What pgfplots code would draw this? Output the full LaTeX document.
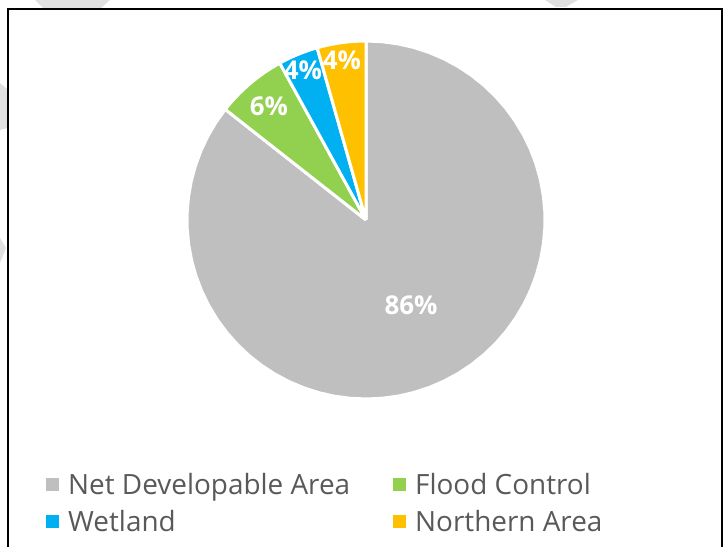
\documentclass[border=0pt]{standalone}
\usepackage{pgfplots}
\pgfplotsset{compat=1.18}
\usepackage{fontspec}
\setmainfont{Open Sans}
\definecolor{cgrey}{HTML}{BFBFBF}
\definecolor{cgreen}{HTML}{92D050}
\definecolor{cblue}{HTML}{00B0F0}
\definecolor{cyellow}{HTML}{FFC000}
\definecolor{legtext}{HTML}{595959}
\definecolor{wmark}{HTML}{E0E0E0}
% slice values (percent)
\def\vA{85.6}\def\vB{6.4}\def\vC{3.6}\def\vD{4.4}
\pgfmathsetmacro{\aZ}{90}
\pgfmathsetmacro{\aA}{\aZ-3.6*\vA}
\pgfmathsetmacro{\aB}{\aA-3.6*\vB}
\pgfmathsetmacro{\aC}{\aB-3.6*\vC}
\pgfmathsetmacro{\aD}{\aC-3.6*\vD}
\newcommand{\pieslice}[3]{%
\addplot[fill=#3, draw=white, line width=3bp, line join=round,
  samples at={0,...,62}, variable=\t,
  legend image code/.code={\path[fill=#3, draw=none] (0bp,-6.5bp) rectangle (13bp,6.5bp);\path[draw=none, fill=none] (0bp,0bp) -- (20bp,0bp);}]
 ({366 + (\t>0)*(\t<62)*179*cos(#1 + (\t-1)/60*(#2-#1))},
  {328 + (\t>0)*(\t<62)*179*sin(#1 + (\t-1)/60*(#2-#1))});
}
\begin{document}
\begin{tikzpicture}
\begin{axis}[
  width=724bp, height=548bp, scale only axis,
  xmin=0, xmax=724, ymin=0, ymax=548,
  hide axis, clip=false,
  legend columns=2,
  legend style={at={(axis cs:43,79)}, anchor=north west, draw=none, fill=none,
    font=\fontsize{28}{30}\selectfont, text=legtext,
    /tikz/every even column/.append style={column sep=41bp},
    row sep=10bp},
  legend cell align=left,
]
% faint watermark shapes behind the chart
\fill[wmark] (axis cs:35,548) -- (axis cs:110,548) -- (axis cs:100,539) -- (axis cs:44,539) -- cycle;
\fill[wmark] (axis cs:545,548) -- (axis cs:578,548) -- (axis cs:566,541) -- (axis cs:556,541) -- cycle;
\fill[wmark] (axis cs:0,465) -- (axis cs:8,458) -- (axis cs:8,420) -- (axis cs:0,418) -- cycle;
\fill[wmark] (axis cs:0,310) -- (axis cs:6,300) -- (axis cs:0,285) -- cycle;
% chart border
\draw[black, line width=1.5bp] (axis cs:8,0.8) -- (axis cs:8,539) -- (axis cs:722,539) -- (axis cs:722,0.8);
\pieslice{\aZ}{\aA}{cgrey}
\addlegendentry{Net Developable Area}
\pieslice{\aA}{\aB}{cgreen}
\addlegendentry{Flood Control}
\pieslice{\aB}{\aC}{cblue}
\addlegendentry{Wetland}
\pieslice{\aC}{\aD}{cyellow}
\addlegendentry{Northern Area}
\node[text=white, font=\fontsize{26}{30}\selectfont\bfseries] at (axis cs:411,243) {86\%};
\node[text=white, font=\fontsize{26}{30}\selectfont\bfseries] at (axis cs:269,442) {6\%};
\node[text=white, font=\fontsize{26}{30}\selectfont\bfseries] at (axis cs:303,478) {4\%};
\node[text=white, font=\fontsize{26}{30}\selectfont\bfseries] at (axis cs:342,488) {4\%};
\end{axis}
\pgfresetboundingbox
\useasboundingbox (0,0) rectangle (724bp,548bp);
\end{tikzpicture}
\end{document}
